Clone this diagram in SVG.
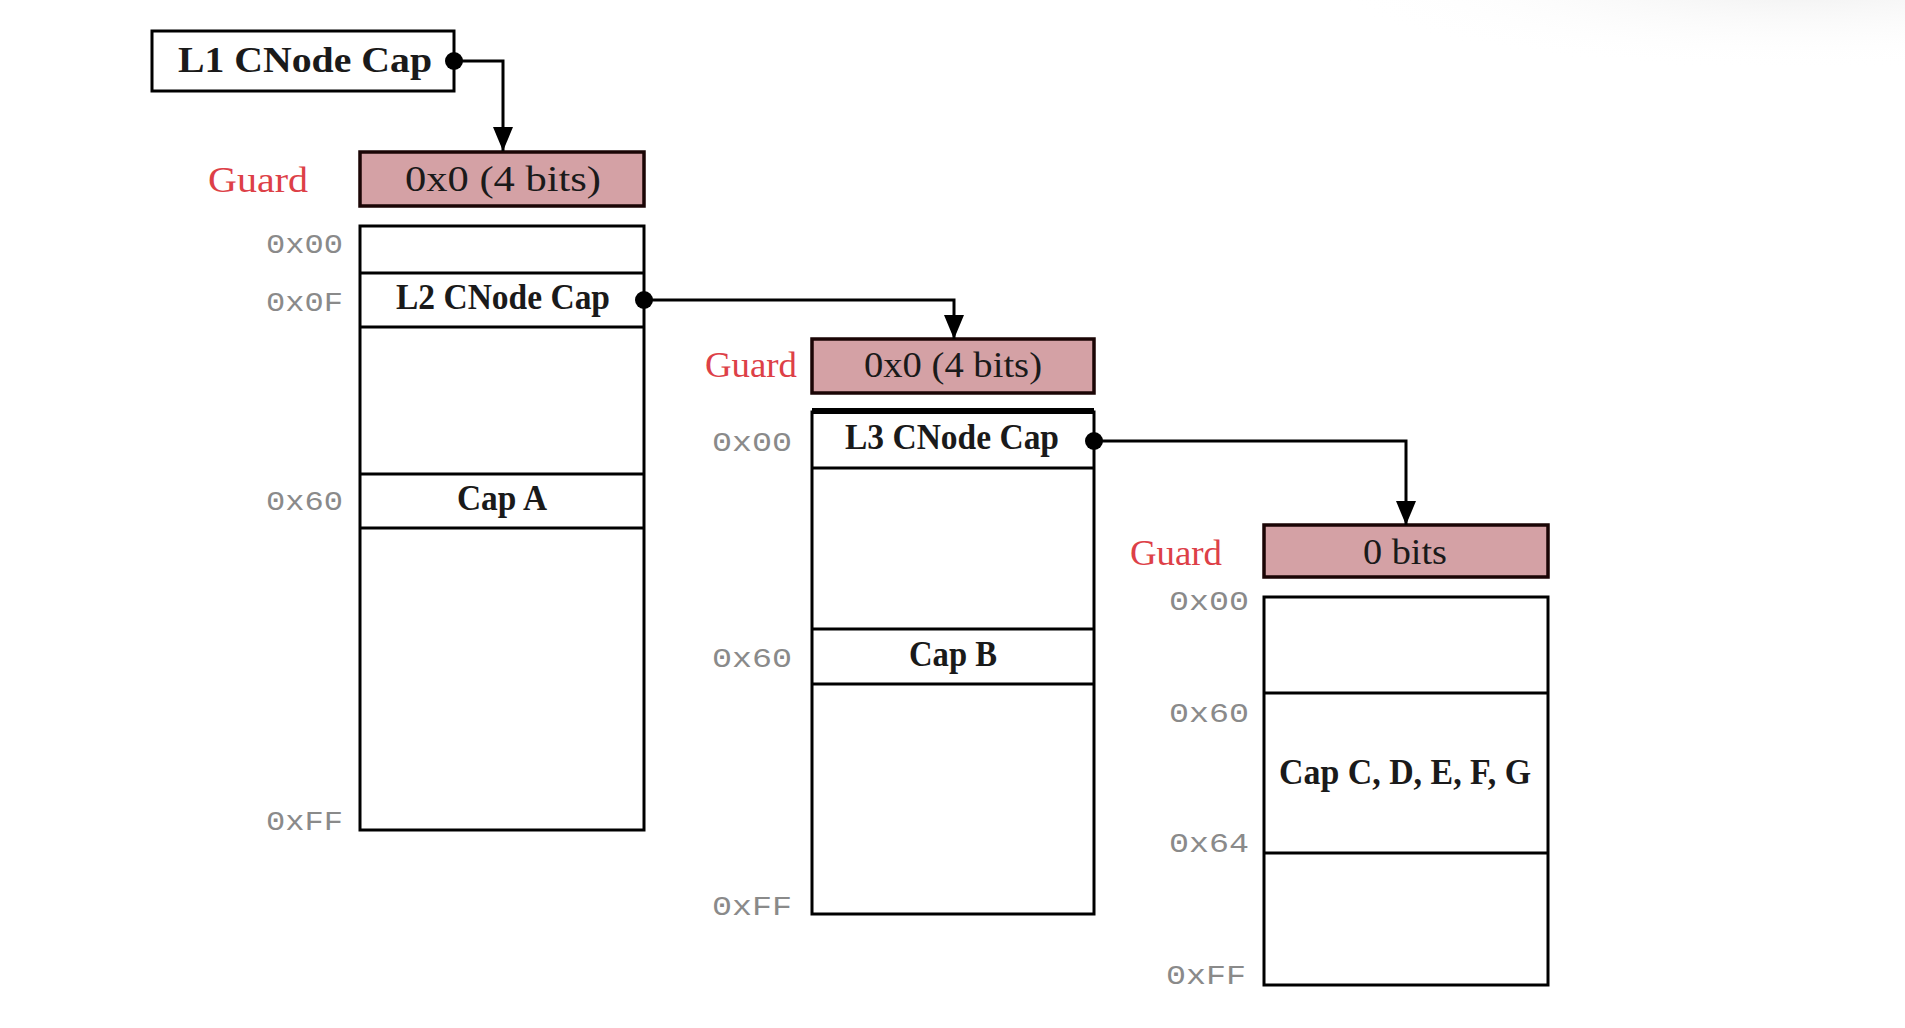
<svg xmlns="http://www.w3.org/2000/svg" width="1905" height="1028" viewBox="0 0 1905 1028">
<defs>
<radialGradient id="shade" cx="1800" cy="-20" r="1" gradientUnits="userSpaceOnUse" gradientTransform="translate(1800 -20) scale(480 90) translate(-1800 20)">
<stop offset="0" stop-color="#eeeeee"/>
<stop offset="1" stop-color="#ffffff" stop-opacity="0"/>
</radialGradient>
<marker id="arrow" markerUnits="userSpaceOnUse" markerWidth="24" markerHeight="20" refX="24" refY="10" orient="auto" viewBox="0 0 24 20">
<path d="M0,0 L24,10 L0,20 Z" fill="#000"/>
</marker>
<marker id="dot" markerUnits="userSpaceOnUse" markerWidth="20" markerHeight="20" refX="10" refY="10" viewBox="0 0 20 20">
<circle cx="10" cy="10" r="9" fill="#000"/>
</marker>
</defs>
<style>
.box{fill:#ffffff;stroke:#000;stroke-width:3}
.guard{fill:#d4a1a5;stroke:#1a0505;stroke-width:3.5}
.row{stroke:#000;stroke-width:3}
.cap{font-family:"Liberation Serif",serif;font-weight:bold;font-size:35px;fill:#1a1a1a;text-anchor:middle}
.gval{font-family:"Liberation Serif",serif;font-size:35px;fill:#1a1a1a;text-anchor:middle}
.glabel{font-family:"Liberation Serif",serif;font-size:36px;fill:#dd4047}
.addr{font-family:"Liberation Mono",monospace;font-size:28px;fill:#8a8a8a}
.conn{fill:none;stroke:#000;stroke-width:3}
</style>
<rect x="0" y="0" width="1905" height="1028" fill="#ffffff"/>
<rect x="1300" y="0" width="605" height="110" fill="url(#shade)"/>

<g id="l1cap">
<rect class="box" x="152" y="31" width="302" height="60"/>
<text class="cap" x="305" y="72" textLength="254" lengthAdjust="spacingAndGlyphs">L1 CNode Cap</text>
</g>

<g id="l2guard">
<text class="glabel" x="208" y="192" textLength="100" lengthAdjust="spacingAndGlyphs">Guard</text>
<rect class="guard" x="360" y="152" width="284" height="54"/>
<text class="gval" x="503" y="191" textLength="196" lengthAdjust="spacingAndGlyphs">0x0 (4 bits)</text>
</g>

<g id="l2cnode">
<rect class="box" x="360" y="226" width="284" height="604"/>
<line class="row" x1="360" y1="273" x2="644" y2="273"/>
<line class="row" x1="360" y1="327" x2="644" y2="327"/>
<line class="row" x1="360" y1="474" x2="644" y2="474"/>
<line class="row" x1="360" y1="528" x2="644" y2="528"/>
<text class="cap" x="503" y="309" textLength="214" lengthAdjust="spacingAndGlyphs">L2 CNode Cap</text>
<text class="cap" x="502" y="510" textLength="90" lengthAdjust="spacingAndGlyphs">Cap A</text>
<text class="addr" x="266" y="253" textLength="77" lengthAdjust="spacingAndGlyphs">0x00</text>
<text class="addr" x="266" y="311" textLength="77" lengthAdjust="spacingAndGlyphs">0x0F</text>
<text class="addr" x="266" y="510" textLength="77" lengthAdjust="spacingAndGlyphs">0x60</text>
<text class="addr" x="266" y="830" textLength="77" lengthAdjust="spacingAndGlyphs">0xFF</text>
</g>

<g id="l3guard">
<text class="glabel" x="705" y="377" textLength="92" lengthAdjust="spacingAndGlyphs">Guard</text>
<rect class="guard" x="812" y="339" width="282" height="54"/>
<text class="gval" x="953" y="377" textLength="178" lengthAdjust="spacingAndGlyphs">0x0 (4 bits)</text>
</g>

<g id="l3cnode">
<rect class="box" x="812" y="412" width="282" height="502"/>
<line x1="812" y1="411" x2="1094" y2="411" stroke="#000" stroke-width="6"/>
<line class="row" x1="812" y1="468" x2="1094" y2="468"/>
<line class="row" x1="812" y1="629" x2="1094" y2="629"/>
<line class="row" x1="812" y1="684" x2="1094" y2="684"/>
<text class="cap" x="952" y="449" textLength="214" lengthAdjust="spacingAndGlyphs">L3 CNode Cap</text>
<text class="cap" x="953" y="666" textLength="88" lengthAdjust="spacingAndGlyphs">Cap B</text>
<text class="addr" x="712" y="451" textLength="80" lengthAdjust="spacingAndGlyphs">0x00</text>
<text class="addr" x="712" y="667" textLength="80" lengthAdjust="spacingAndGlyphs">0x60</text>
<text class="addr" x="712" y="915" textLength="80" lengthAdjust="spacingAndGlyphs">0xFF</text>
</g>

<g id="l4guard">
<text class="glabel" x="1130" y="565" textLength="92" lengthAdjust="spacingAndGlyphs">Guard</text>
<rect class="guard" x="1264" y="525" width="284" height="52"/>
<text class="gval" x="1405" y="564" textLength="84" lengthAdjust="spacingAndGlyphs">0 bits</text>
</g>

<g id="l4cnode">
<rect class="box" x="1264" y="597" width="284" height="388"/>
<line class="row" x1="1264" y1="693" x2="1548" y2="693"/>
<line class="row" x1="1264" y1="853" x2="1548" y2="853"/>
<text class="cap" x="1405" y="784" textLength="252" lengthAdjust="spacingAndGlyphs">Cap C, D, E, F, G</text>
<text class="addr" x="1169" y="610" textLength="80" lengthAdjust="spacingAndGlyphs">0x00</text>
<text class="addr" x="1169" y="722" textLength="80" lengthAdjust="spacingAndGlyphs">0x60</text>
<text class="addr" x="1169" y="852" textLength="80" lengthAdjust="spacingAndGlyphs">0x64</text>
<text class="addr" x="1166" y="984" textLength="80" lengthAdjust="spacingAndGlyphs">0xFF</text>
</g>

<g id="connectors">
<path class="conn" d="M454,61 H503 V151" marker-start="url(#dot)" marker-end="url(#arrow)"/>
<path class="conn" d="M644,300 H954 V339" marker-start="url(#dot)" marker-end="url(#arrow)"/>
<path class="conn" d="M1094,441 H1406 V525" marker-start="url(#dot)" marker-end="url(#arrow)"/>
</g>
</svg>
